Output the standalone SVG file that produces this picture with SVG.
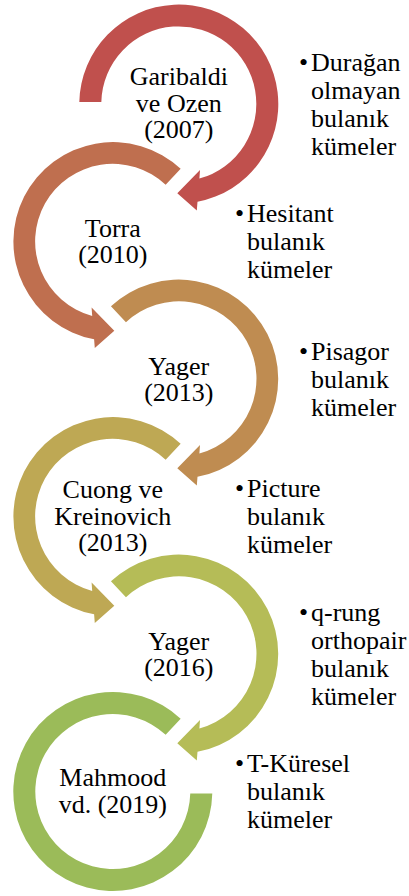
<svg xmlns="http://www.w3.org/2000/svg" width="409" height="896" viewBox="0 0 409 896">
  <style>
    .lbl { font-family: "Liberation Serif", "Times New Roman", serif; font-size: 26px; fill: #000; text-anchor: middle; }
    .bul { font-family: "Liberation Serif", "Times New Roman", serif; font-size: 26px; fill: #000; }
  </style>
  <defs>
    <!-- ring arrow centred on (0,0): first ring starts flat at 9 o'clock -->
    <path id="arrowFirst" d="M -99.48,-2 A 99.5 99.5 0 1 1 18.7,97.8 L 18,106.5 L -1.5,89.3 L 21.2,66 L 20.6,74.6 A 77.5 77.5 0 1 0 -77.47,-2 Z"/>
    <!-- ring arrow with a radial cut at the upper left -->
    <path id="arrowMid" d="M -67.86,-72.77 A 99.5 99.5 0 1 1 18.7,97.8 L 18,106.5 L -1.5,89.3 L 21.2,66 L 20.6,74.6 A 77.5 77.5 0 1 0 -52.85,-56.68 Z"/>
    <!-- closing ring without an arrowhead -->
    <path id="arrowLast" d="M -67.86,-72.77 A 99.5 99.5 0 1 1 -99.48,2 L -77.47,2 A 77.5 77.5 0 1 0 -52.85,-56.68 Z"/>
  </defs>

  <g id="node-garibaldi">
    <use href="#arrowFirst" transform="translate(178.8,104)" fill="#C0504D"/>
    <text class="lbl" x="178.8" y="85">Garibaldi</text>
    <text class="lbl" x="178.8" y="111.5">ve Ozen</text>
    <text class="lbl" x="178.8" y="138">(2007)</text>
  </g>
  <g id="note-garibaldi">
    <text class="bul" x="299" y="70.6">•</text>
    <text class="bul" x="311" y="70.6">Durağan</text>
    <text class="bul" x="311" y="98.6">olmayan</text>
    <text class="bul" x="311" y="126.6">bulanık</text>
    <text class="bul" x="311" y="154.6">kümeler</text>
  </g>

  <g id="node-torra">
    <use href="#arrowMid" transform="translate(112.8,241.5) scale(-1,1)" fill="#BF6F4F"/>
    <text class="lbl" x="112.8" y="236.5">Torra</text>
    <text class="lbl" x="112.8" y="263">(2010)</text>
  </g>
  <g id="note-torra">
    <text class="bul" x="235" y="222.1">•</text>
    <text class="bul" x="247" y="222.1">Hesitant</text>
    <text class="bul" x="247" y="250.1">bulanık</text>
    <text class="bul" x="247" y="278.1">kümeler</text>
  </g>

  <g id="node-yager2013">
    <use href="#arrowMid" transform="translate(178.8,379)" fill="#BF8C51"/>
    <text class="lbl" x="178.8" y="374.5">Yager</text>
    <text class="lbl" x="178.8" y="401">(2013)</text>
  </g>
  <g id="note-yager2013">
    <text class="bul" x="299" y="359.6">•</text>
    <text class="bul" x="311" y="359.6">Pisagor</text>
    <text class="bul" x="311" y="387.6">bulanık</text>
    <text class="bul" x="311" y="415.6">kümeler</text>
  </g>

  <g id="node-cuong">
    <use href="#arrowMid" transform="translate(112.8,516.5) scale(-1,1)" fill="#BEA854"/>
    <text class="lbl" x="112.8" y="498">Cuong ve</text>
    <text class="lbl" x="112.8" y="524.5">Kreinovich</text>
    <text class="lbl" x="112.8" y="551">(2013)</text>
  </g>
  <g id="note-cuong">
    <text class="bul" x="235" y="497.1">•</text>
    <text class="bul" x="247" y="497.1">Picture</text>
    <text class="bul" x="247" y="525.1">bulanık</text>
    <text class="bul" x="247" y="553.1">kümeler</text>
  </g>

  <g id="node-yager2016">
    <use href="#arrowMid" transform="translate(178.8,654)" fill="#B5BC57"/>
    <text class="lbl" x="178.8" y="649.5">Yager</text>
    <text class="lbl" x="178.8" y="676">(2016)</text>
  </g>
  <g id="note-yager2016">
    <text class="bul" x="299" y="620.6">•</text>
    <text class="bul" x="311" y="620.6">q-rung</text>
    <text class="bul" x="311" y="648.6">orthopair</text>
    <text class="bul" x="311" y="676.6">bulanık</text>
    <text class="bul" x="311" y="704.6">kümeler</text>
  </g>

  <g id="node-mahmood">
    <use href="#arrowLast" transform="translate(112.8,791.5) scale(-1,1)" fill="#9BBB59"/>
    <text class="lbl" x="112.8" y="786">Mahmood</text>
    <text class="lbl" x="112.8" y="812.5">vd. (2019)</text>
  </g>
  <g id="note-mahmood">
    <text class="bul" x="235" y="772.1">•</text>
    <text class="bul" x="247" y="772.1">T-Küresel</text>
    <text class="bul" x="247" y="800.1">bulanık</text>
    <text class="bul" x="247" y="828.1">kümeler</text>
  </g>
</svg>
